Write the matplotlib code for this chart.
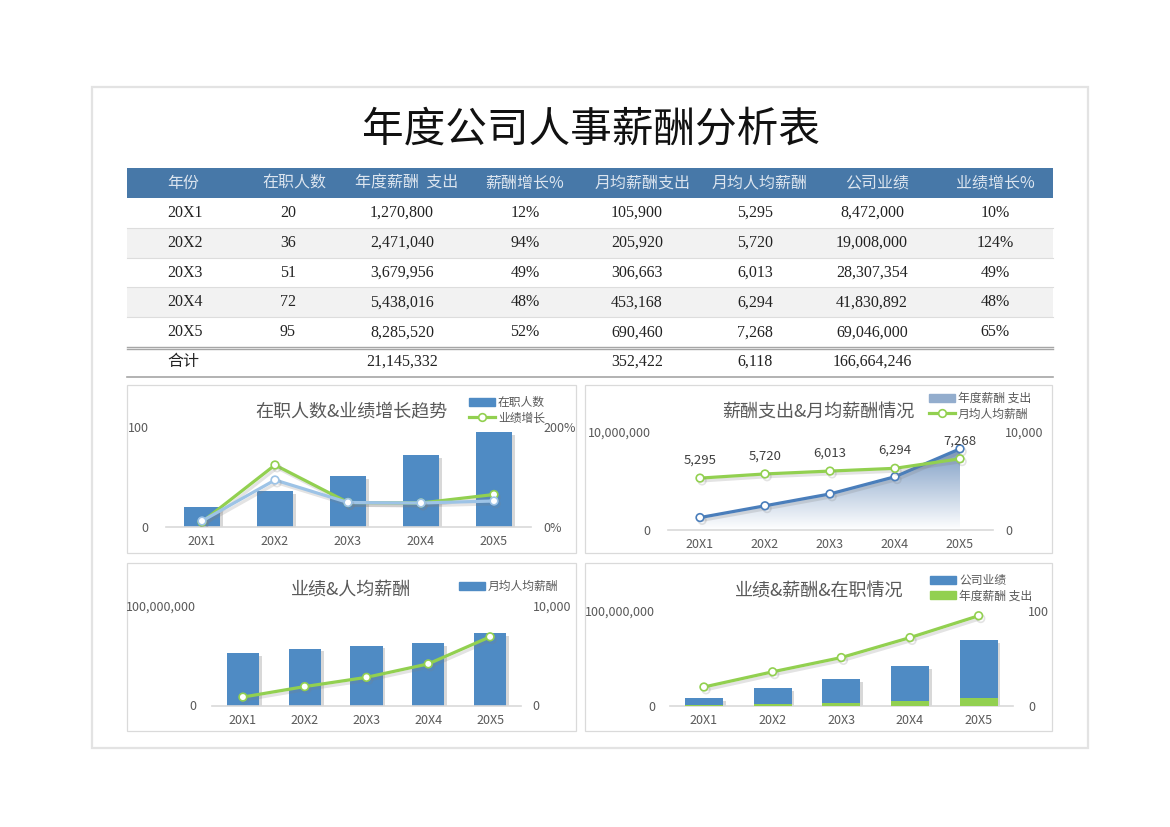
import numpy as np
import matplotlib
matplotlib.use("Agg")
import matplotlib.pyplot as plt
import matplotlib.patheffects as pe
from matplotlib.patches import Rectangle, Patch
from matplotlib.lines import Line2D
from matplotlib.colors import LinearSegmentedColormap

plt.rcParams['font.family'] = ['Noto Sans CJK SC', 'DejaVu Sans']

# data read from the sheet
years = ['20X1', '20X2', '20X3', '20X4', '20X5']
staff = [20, 36, 51, 72, 95]
salary_total = [1270800, 2471040, 3679956, 5438016, 8285520]
salary_growth = [0.12, 0.94, 0.49, 0.48, 0.52]
monthly_salary = [105900, 205920, 306663, 453168, 690460]
monthly_per_capita = [5295, 5720, 6013, 6294, 7268]
revenue = [8472000, 19008000, 28307354, 41830892, 69046000]
revenue_growth = [0.10, 1.24, 0.49, 0.48, 0.65]
headers = ['年份', '在职人数', '年度薪酬  支出', '薪酬增长%', '月均薪酬支出', '月均人均薪酬', '公司业绩', '业绩增长%']

W, H = 1170, 827
BLUE = '#4F8BC4'
GREEN = '#92D050'
LIGHTBLUE = '#9DC3E6'
LINEBLUE = '#4A7EBB'
GRAY = '#595959'

fig = plt.figure(figsize=(W / 100, H / 100), dpi=100)

def fx(x):
    return x / W

def fy(y):
    return 1 - y / H

def add_ax(left, top, right, bottom):
    return fig.add_axes([left / W, 1 - bottom / H, (right - left) / W, (bottom - top) / H])

# background layer in pixel coords
bg = fig.add_axes([0, 0, 1, 1], zorder=-10)
bg.set_xlim(0, W)
bg.set_ylim(H, 0)
bg.axis('off')
bg.add_patch(Rectangle((92, 87), 996, 661, fill=False, edgecolor='#E3E3E3', lw=1.6))
bg.text(591, 130, '年度公司人事薪酬分析表', fontsize=30, ha='center', va='center',
        color='#111111', fontweight='light')

# table
tfont = ['Liberation Serif', 'Noto Sans CJK SC']
bg.add_patch(Rectangle((127, 168), 926, 30, color='#4778A8', lw=0))
head_x = [167, 294, 407, 525, 643, 760, 877, 995]
data_x = [167, 288, 402, 525, 637, 755, 872, 995]
for i, h in enumerate(headers):
    bg.text(head_x[i], 183, h, ha='left' if i == 0 else 'center', va='center',
            fontsize=11.5, color='#DCE5EF', family=['Noto Sans CJK SC', 'DejaVu Sans'])
row_top = 198
for r in range(5):
    y0 = row_top + r * 29.8
    if r % 2 == 1:
        bg.add_patch(Rectangle((127, y0), 926, 29.8, color='#F2F2F2', lw=0))
    if r > 0:
        bg.plot([127, 1053], [y0, y0], color='#DDDDDD', lw=0.8)
    vals = [years[r], str(staff[r]), f'{salary_total[r]:,}', f'{salary_growth[r]:.0%}',
            f'{monthly_salary[r]:,}', f'{monthly_per_capita[r]:,}', f'{revenue[r]:,}',
            f'{revenue_growth[r]:.0%}']
    for i, v in enumerate(vals):
        bg.text(data_x[i], y0 + 15, v, ha='left' if i == 0 else 'center', va='center',
                fontsize=11.5, color='#222222', family=tfont)
bg.plot([127, 1053], [346.5, 346.5], color='#A6A6A6', lw=1.0)
bg.plot([127, 1053], [348.5, 348.5], color='#A6A6A6', lw=1.0)
bg.plot([127, 1053], [377, 377], color='#A6A6A6', lw=1.2)
tot_y = 362
bg.text(167, tot_y, '合计', ha='left', va='center', fontsize=11.5, color='#222222', family=tfont)
bg.text(data_x[2], tot_y, f'{sum(salary_total):,}', ha='center', va='center', fontsize=11.5, color='#222222', family=tfont)
bg.text(data_x[4], tot_y, f'{round(sum(salary_total) / 12 / 5):,}', ha='center', va='center', fontsize=11.5, color='#222222', family=tfont)
bg.text(data_x[5], tot_y, f'{round(sum(monthly_per_capita) / 5):,}', ha='center', va='center', fontsize=11.5, color='#222222', family=tfont)
bg.text(data_x[6], tot_y, f'{sum(revenue):,}', ha='center', va='center', fontsize=11.5, color='#222222', family=tfont)

# chart panels
panels = [(127, 385, 576, 553), (585, 385, 1052, 553), (127, 563, 576, 731), (585, 563, 1052, 731)]
for (l, t, r, b) in panels:
    bg.add_patch(Rectangle((l, t), r - l, b - t, facecolor='white', edgecolor='#DADADA', lw=0.9))

titles = ['在职人数&业绩增长趋势', '薪酬支出&月均薪酬情况', '业绩&人均薪酬', '业绩&薪酬&在职情况']
title_pos = [(351, 412), (818, 412), (351, 590), (819, 591)]
for t, (x, y) in zip(titles, title_pos):
    bg.text(x, y, t, ha='center', va='center', fontsize=13, color=GRAY)

bar_fx = [pe.SimplePatchShadow(offset=(2, -2), shadow_rgbFace='#808080', alpha=0.3), pe.Normal()]
line_fx = [pe.SimpleLineShadow(offset=(1.5, -2), shadow_color='#808080', alpha=0.22), pe.Normal()]
xs = np.arange(len(years))

def style(ax, twin):
    ax.set_xlim(-0.5, 4.5)
    ax.set_xticks(xs)
    ax.set_xticklabels(years)
    for a in (ax, twin):
        for s in a.spines.values():
            s.set_visible(False)
        a.tick_params(length=0, colors=GRAY, labelsize=9)
        a.patch.set_visible(False)
    ax.spines['bottom'].set_visible(True)
    ax.spines['bottom'].set_color('#D9D9D9')
    ax.spines['bottom'].set_linewidth(1.2)
    ax.tick_params(axis='x', pad=6)

def legend(ax, handles, labels, x, y):
    leg = ax.legend(handles, labels, loc='upper left', bbox_to_anchor=(fx(x), fy(y)),
                    bbox_transform=fig.transFigure, frameon=False, fontsize=8.5,
                    handlelength=2.2, handletextpad=0.25, labelspacing=0.2,
                    borderpad=0, borderaxespad=0)
    for txt in leg.get_texts():
        txt.set_color(GRAY)

def mk(color):
    return dict(marker='o', ms=5.5, mfc='white', mec=color, mew=1.2)

# chart 1: staff bars + growth lines
ax1 = add_ax(165.5, 427, 530.5, 527)
ax1.bar(xs, staff, width=0.5, color=BLUE, path_effects=bar_fx, zorder=2)
ax1.set_ylim(0, 100)
ax1.set_yticks([0, 100])
ax1r = ax1.twinx()
ax1r.plot(xs, revenue_growth, color=GREEN, lw=2.3, path_effects=line_fx, zorder=3, **mk(GREEN))
ax1r.plot(xs, salary_growth, color=LIGHTBLUE, lw=2.3, path_effects=line_fx, zorder=4, **mk(LIGHTBLUE))
ax1r.set_ylim(0, 2)
ax1r.set_yticks([0, 2])
ax1r.set_yticklabels(['0%', '200%'])
style(ax1, ax1r)
ax1.tick_params(axis='y', pad=12)
ax1r.tick_params(axis='y', pad=9)
legend(ax1r, [Patch(color=BLUE), Line2D([], [], color=GREEN, lw=2.3, **mk(GREEN))],
       ['在职人数', '业绩增长'], 469, 396)

# chart 2: salary area + per-capita line
ax2 = add_ax(667.5, 432, 992.5, 530)
ax2.set_ylim(0, 1e7)
poly = ax2.fill_between(xs, 0, salary_total, color='none', lw=0)
cmap = LinearSegmentedColormap.from_list('g', ['#FFFFFF', '#7C9CC4'])
grad = np.linspace(0, 1, 256).reshape(-1, 1)
img = ax2.imshow(grad, cmap=cmap, aspect='auto', origin='lower',
                 extent=(0, 4, 0, max(salary_total)), zorder=1)
img.set_clip_path(poly.get_paths()[0], transform=ax2.transData)
ax2.plot(xs, salary_total, color=LINEBLUE, lw=2.3, zorder=3, path_effects=line_fx, **mk(LINEBLUE))
ax2.set_yticks([0, 1e7])
ax2.set_yticklabels(['0', '10,000,000'])
ax2r = ax2.twinx()
ax2r.plot(xs, monthly_per_capita, color=GREEN, lw=2.3, path_effects=line_fx, **mk(GREEN))
for i, v in enumerate(monthly_per_capita):
    ax2r.annotate(f'{v:,}', (xs[i], v), xytext=(0, 13), textcoords='offset points',
                  ha='center', va='center', fontsize=9.5, color='#404040')
ax2r.set_ylim(0, 10000)
ax2r.set_yticks([0, 10000])
ax2r.set_yticklabels(['0', '10,000'])
style(ax2, ax2r)
ax2.tick_params(axis='y', pad=12)
ax2r.tick_params(axis='y', pad=9)
legend(ax2r, [Patch(color='#93ADCD'), Line2D([], [], color=GREEN, lw=2.3, **mk(GREEN))],
       ['年度薪酬 支出', '月均人均薪酬'], 929, 392)

# chart 3: per-capita bars (right axis) + revenue line (left axis)
ax3 = add_ax(212, 606, 521, 705.5)
ax3.bar(xs, monthly_per_capita, width=0.52, color=BLUE, path_effects=bar_fx, zorder=2)
ax3.set_ylim(0, 10000)
ax3l = ax3.twinx()
ax3.yaxis.tick_right()
ax3l.yaxis.tick_left()
ax3.set_yticks([0, 10000])
ax3.set_yticklabels(['0', '10,000'])
ax3l.plot(xs, revenue, color=GREEN, lw=2.3, path_effects=line_fx, **mk(GREEN))
ax3l.set_ylim(0, 1e8)
ax3l.set_yticks([0, 1e8])
ax3l.set_yticklabels(['0', '100,000,000'])
style(ax3, ax3l)
ax3.tick_params(axis='y', pad=8.5)
ax3l.tick_params(axis='y', pad=11.5)
legend(ax3l, [Patch(color=BLUE)], ['月均人均薪酬'], 459, 580)

# chart 4: revenue and salary bars + staff line
ax4 = add_ax(669.6, 611, 1013, 706)
ax4.bar(xs, revenue, width=0.55, color=BLUE, path_effects=bar_fx, zorder=2)
ax4.bar(xs, salary_total, width=0.55, color=GREEN, zorder=3)
ax4.set_ylim(0, 1e8)
ax4.set_yticks([0, 1e8])
ax4.set_yticklabels(['0', '100,000,000'])
ax4r = ax4.twinx()
ax4r.plot(xs, staff, color=GREEN, lw=2.3, path_effects=line_fx, **mk(GREEN))
ax4r.set_ylim(0, 100)
ax4r.set_yticks([0, 100])
style(ax4, ax4r)
ax4.tick_params(axis='y', pad=10.5)
ax4r.tick_params(axis='y', pad=10.8)
legend(ax4r, [Patch(color=BLUE), Patch(color=GREEN)], ['公司业绩', '年度薪酬 支出'], 930, 574)

fig.savefig('out.png', dpi=100, facecolor='white')
